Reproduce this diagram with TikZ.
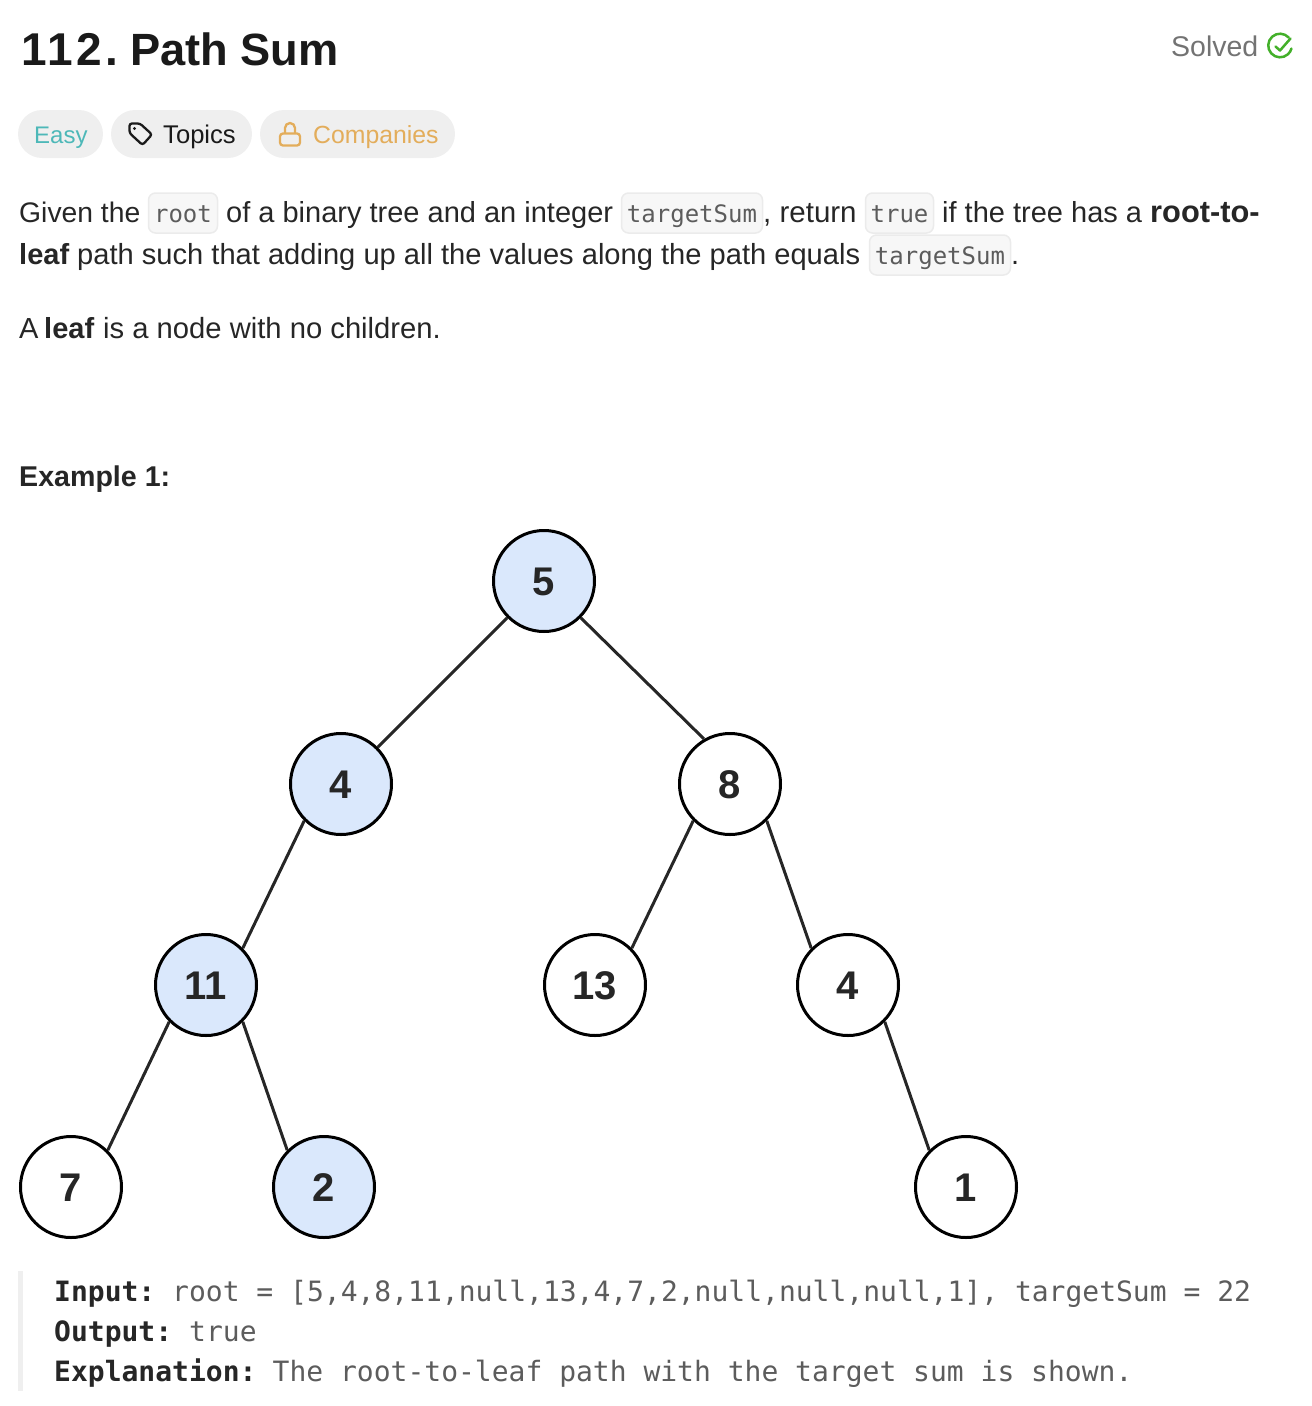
\documentclass[tikz,border=0pt]{standalone}
\usepackage{xcolor, fontspec}
\setmainfont{Liberation Sans}
\setmonofont{DejaVu Sans Mono}
\definecolor{inkdark}{HTML}{1A1A1A}
\definecolor{inkbody}{HTML}{262626}
\definecolor{inkcode}{HTML}{5C5C5C}
\definecolor{inkgrey}{HTML}{737373}
\definecolor{pillgrey}{HTML}{EFEFEF}
\definecolor{codefill}{HTML}{F7F7F7}
\definecolor{codeline}{HTML}{EBEBEB}
\definecolor{easyteal}{HTML}{4DB8B8}
\definecolor{lockgold}{HTML}{E3AD5B}
\definecolor{solvedgreen}{HTML}{43B02A}
\definecolor{pathblue}{HTML}{DAE8FC}
\begin{document}
\begin{tikzpicture}
	[
	x=1pt, y=-1pt,
	txt/.style={anchor=base west, inner sep=0pt, font=\fontsize{#1}{34}\selectfont, text=inkbody},
	txt/.default=29,
	bold/.style={anchor=base west, inner sep=0pt, font=\fontsize{#1}{34}\selectfont\bfseries, text=inkbody},
	bold/.default=29,
	heading/.style={anchor=base west, inner sep=0pt, font=\bfseries\fontsize{#1}{56}\selectfont, text=inkdark},
	pill/.style={fill=pillgrey, rounded corners=24pt, minimum height=48pt, inner sep=0pt, outer sep=0pt},
	inlinecode/.style={draw=codeline, line width=1.5pt, fill=codefill, rounded corners=7pt, minimum height=40pt, inner sep=0pt,
		text height=18pt, text depth=0pt, font=\ttfamily\fontsize{24}{28}\selectfont, text=inkcode},
	mono/.style={anchor=base west, inner sep=0pt, font=\ttfamily\fontsize{28}{32}\selectfont, text=inkcode},
	monobold/.style={mono, font=\ttfamily\bfseries\fontsize{28}{32}\selectfont, text=inkbody},
	treenode/.style={circle, draw=black, line width=3pt, fill=white, minimum size=101pt, inner sep=0pt,
		text height=28.5pt, text depth=0pt, font=\bfseries\fontsize{40}{44}\selectfont, text=inkbody},
	onpath/.style={treenode, fill=pathblue},
	treeedge/.style={draw=inkbody, line width=3pt}]
	\useasboundingbox (0,0) rectangle (1312,1406);

	% heading
	\node[heading=46] (number) at (21,65) {\addfontfeature{LetterSpace=7}112.};
	\node[heading=45.2] (title) at (130,65) {Path Sum};
	\node[txt=28.5, text=inkgrey] (solved) at (1171,56) {Solved};
	\draw[solvedgreen, line width=2.5pt, line cap=round] (1288.8,37.6) arc[start angle=-42, end angle=-345, radius=11.8];
	\draw[solvedgreen, line width=2.5pt, line cap=round, line join=round] (1275.5,46.5) -- (1280,50.5) -- (1290.5,38.5);

	% tags
	\node[pill, minimum width=85pt] (easy) at (60.5,134) {};
	\node[pill, minimum width=141pt] (topics) at (181.5,134) {};
	\node[pill, minimum width=195pt] (companies) at (357.5,134) {};
	\node[txt=24, text=easyteal] (easytext) at (34,143) {Easy};
	\node[txt=25.6, text=inkdark] (topicstext) at (163,143) {Topics};
	\node[txt=24.8, text=lockgold] (companiestext) at (313,143) {Companies};
	\draw[inkdark, line width=2.3pt, line join=round, rounded corners=2.5pt] (129.5,123.5) -- (140,123.5) -- (152,134.5) -- (142.5,145) -- (129.5,133) -- cycle;
	\fill[inkdark] (134.5,128.5) circle (1.6);
	\draw[lockgold, line width=2.3pt, rounded corners=3pt] (280,133.5) rectangle (300,145.5);
	\draw[lockgold, line width=2.3pt] (285,133.5) -- (285,128) arc[start angle=180, end angle=360, radius=5] -- (295,133.5);

	% statement
	\node[txt=28.3] (given) at (19,222) {Given the};
	\node[inlinecode, minimum width=69pt] (coderoot) at (183,213) {root};
	\node[txt] (binary) at (226,222) {of a binary tree and an integer};
	\node[inlinecode, minimum width=141pt] (codetarget) at (692,213) {targetSum};
	\node[txt=29.5] (return) at (763,222) {, return};
	\node[inlinecode, minimum width=68pt] (codetrue) at (899.5,213) {true};
	\node[txt] (tree) at (942,222) {if the tree has a};
	\node[bold=30.8] (rootto) at (1150,222) {root-to-};
	\node[bold] (leaf) at (19,264) {leaf};
	\node[txt=29.1] (path) at (77,264) {path such that adding up all the values along the path equals};
	\node[inlinecode, minimum width=141pt] (codetargettwo) at (940,255) {targetSum};
	\node[txt] (stop) at (1011,264) {.};
	\node[txt] (noa) at (19,338) {A};
	\node[bold] (leaftwo) at (44,338) {leaf};
	\node[txt=29.2] (children) at (103,338) {is a node with no children.};
	\node[bold=28.6] (example) at (19,486) {Example 1:};

	% tree
	\node[onpath] (n5) at (544,581) {5};
	\node[onpath] (n4) at (341,784) {4};
	\node[treenode] (n8) at (730,784) {8};
	\node[onpath] (n11) at (206,985) {11};
	\node[treenode] (n13) at (595,985) {13};
	\node[treenode] (n4b) at (848,985) {4};
	\node[treenode] (n7) at (71,1187) {7};
	\node[onpath] (n2) at (324,1187) {2};
	\node[treenode] (n1) at (966,1187) {1};
	\draw[treeedge] (n5.south west) -- (n4.north east);
	\draw[treeedge] (n5.south east) -- (n8.120);
	\draw[treeedge] (n4.south west) -- (n11.north east);
	\draw[treeedge] (n8.south west) -- (n13.north east);
	\draw[treeedge] (n8.south east) -- (n4b.north west);
	\draw[treeedge] (n11.south west) -- (n7.north east);
	\draw[treeedge] (n11.south east) -- (n2.north west);
	\draw[treeedge] (n4b.south east) -- (n1.north west);

	% example text
	\fill[pillgrey] (18,1271) rectangle (23,1391);
	\node[monobold] (input) at (54,1301) {Input:};
	\node[mono] (inputval) at (172,1301) {root = [5,4,8,11,null,13,4,7,2,null,null,null,1], targetSum = 22};
	\node[monobold] (output) at (54,1341) {Output:};
	\node[mono] (outputval) at (189,1341) {true};
	\node[monobold] (explain) at (54,1381) {Explanation:};
	\node[mono] (explainval) at (272.5,1381) {The root-to-leaf path with the target sum is shown.};
\end{tikzpicture}
\end{document}
